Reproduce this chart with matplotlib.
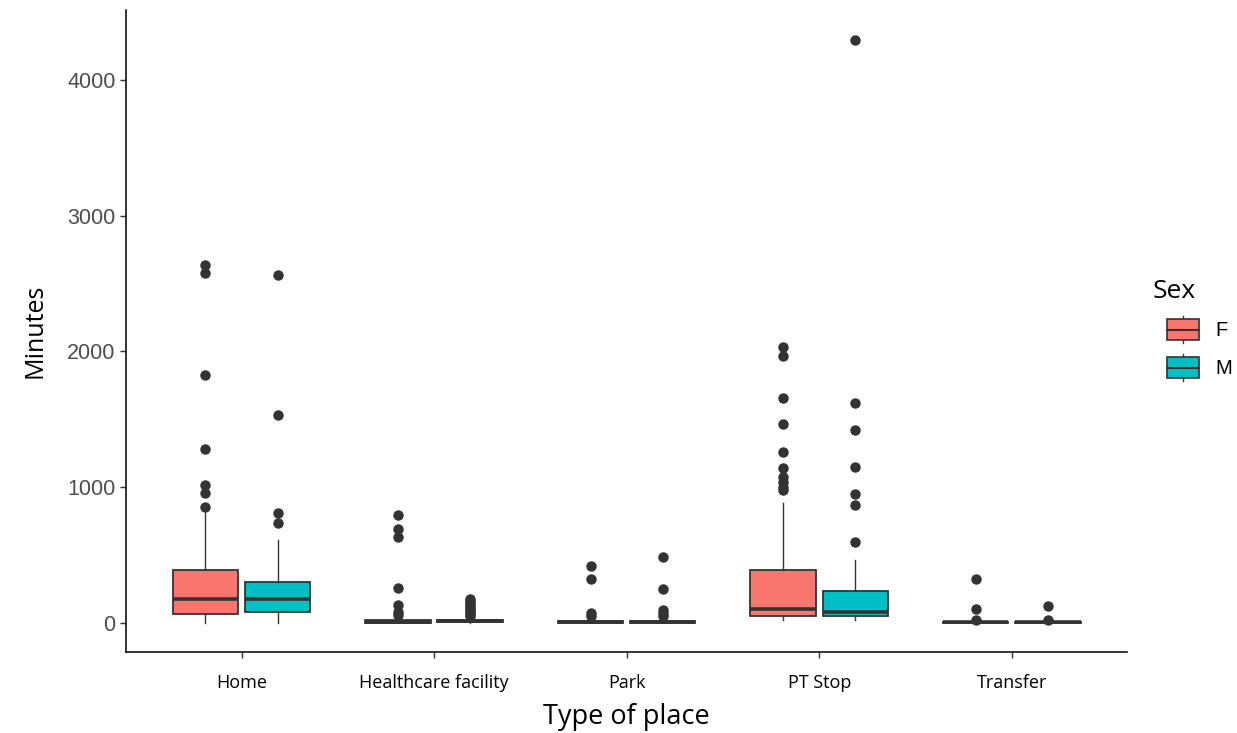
import matplotlib
matplotlib.use("Agg")
import matplotlib.pyplot as plt
from matplotlib.legend_handler import HandlerBase
from matplotlib.patches import Patch, Rectangle
from matplotlib.lines import Line2D

# --- Data ---
places = ['Home', 'Healthcare facility', 'Park', 'PT Stop', 'Transfer']
sexes = ['F', 'M']
colors = {'F': '#F8766D', 'M': '#00BFC4'}

# box stats per place: q1, median, q3, lower whisker, upper whisker
f_q1 = [64, 3, 2, 54, 1]
f_med = [177, 10, 6, 106, 5]
f_q3 = [390, 22, 15, 390, 10]
f_lo = [0, 0, 0, 20, 0]
f_hi = [810, 45, 30, 881, 18]
f_out = [
    [2637, 2576, 1829, 1282, 1017, 955, 857],
    [796, 692, 636, 260, 133, 83, 55],
    [422, 322, 71, 50],
    [2031, 1967, 1660, 1466, 1257, 1139, 1078, 1041, 1004, 980],
    [324, 100, 25],
]

m_q1 = [79, 5, 2, 54, 1]
m_med = [177, 12, 6, 79, 5]
m_q3 = [300, 25, 15, 236, 10]
m_lo = [0, 0, 0, 20, 0]
m_hi = [611, 48, 30, 464, 18]
m_out = [
    [2566, 1535, 808, 734],
    [180, 165, 150, 135, 120, 105, 90, 75, 60, 50],
    [489, 248, 96, 70, 50],
    [4295, 1623, 1422, 1147, 948, 869, 599],
    [127, 20],
]

yticks = [0, 1000, 2000, 3000, 4000]

EDGE = '#333333'
TITLE_FONT = ['Open Sans', 'DejaVu Sans']


def make_stats(q1, med, q3, lo, hi, out):
    return [dict(q1=a, med=b, q3=c, whislo=d, whishi=e, fliers=f)
            for a, b, c, d, e, f in zip(q1, med, q3, lo, hi, out)]


class BoxHandler(HandlerBase):
    """Legend key that looks like a little boxplot (sits at right of the key area)."""
    def create_artists(self, legend, orig_handle, xdescent, ydescent,
                       width, height, fontsize, trans):
        fc = orig_handle.get_facecolor()
        bh = height * 0.8
        bw = width * 0.7
        x0 = -xdescent + width - bw
        y0 = -ydescent + (height - bh) / 2
        cx = x0 + bw / 2
        stub = height * 0.13
        return [
            Line2D([cx, cx], [y0 - stub, y0], color=EDGE, lw=1, transform=trans),
            Line2D([cx, cx], [y0 + bh, y0 + bh + stub], color=EDGE, lw=1, transform=trans),
            Rectangle((x0, y0), bw, bh, facecolor=fc, edgecolor=EDGE,
                      lw=1.2, transform=trans),
            Line2D([x0, x0 + bw], [y0 + bh / 2] * 2, color=EDGE,
                   lw=1.5, transform=trans),
        ]


fig = plt.figure(figsize=(12.37, 7.33), dpi=100)
ax = fig.add_axes([0.1019, 0.1105, 0.8094, 0.876])

xs = list(range(1, len(places) + 1))
offset = 0.1875
stats = {'F': make_stats(f_q1, f_med, f_q3, f_lo, f_hi, f_out),
         'M': make_stats(m_q1, m_med, m_q3, m_lo, m_hi, m_out)}

for sign, sex in zip([-1, 1], sexes):
    ax.bxp(stats[sex], positions=[x + sign * offset for x in xs], widths=0.34,
           patch_artist=True, showcaps=False,
           boxprops=dict(facecolor=colors[sex], edgecolor=EDGE, linewidth=1.3),
           medianprops=dict(color=EDGE, linewidth=2.6),
           whiskerprops=dict(color=EDGE, linewidth=1),
           flierprops=dict(marker='o', markerfacecolor=EDGE, markeredgecolor=EDGE,
                           markersize=6.5))

ax.set_xlim(0.4, len(places) + 0.6)
ax.set_ylim(-214, 4516)
ax.set_xticks(xs)
ax.set_xticklabels(places, fontsize=13, family=TITLE_FONT, color='black')
ax.set_yticks(yticks)
ax.set_yticklabels([str(t) for t in yticks], fontsize=15.5, family=['Liberation Sans'],
                   color='#4D4D4D')
ax.tick_params(axis='both', length=4, width=1, color=EDGE)
ax.tick_params(axis='x', pad=12)

for s in ['top', 'right']:
    ax.spines[s].set_visible(False)
for s in ['left', 'bottom']:
    ax.spines[s].set_linewidth(1.1)
    ax.spines[s].set_color('black')

ax.set_xlabel('Type of place', fontsize=19.5, family=TITLE_FONT, labelpad=8)
ax.set_ylabel('Minutes', fontsize=18, family=TITLE_FONT, labelpad=14)

handles = [Patch(facecolor=colors[s], label=s) for s in sexes]
leg = fig.legend(handles=handles, labels=sexes, title='Sex',
                 loc='upper left', bbox_to_anchor=(0.919, 0.642),
                 frameon=False, handler_map={Patch: BoxHandler()},
                 handlelength=2.3, handleheight=1.6, handletextpad=0.8,
                 labelspacing=0.6, borderpad=0.3,
                 prop={'family': 'Liberation Sans', 'size': 14.5})
leg.get_title().set_fontsize(19)
leg.get_title().set_family(TITLE_FONT)
leg._legend_box.align = 'left'
leg._legend_box.sep = 9.5

fig.savefig('out.png', dpi=100)
